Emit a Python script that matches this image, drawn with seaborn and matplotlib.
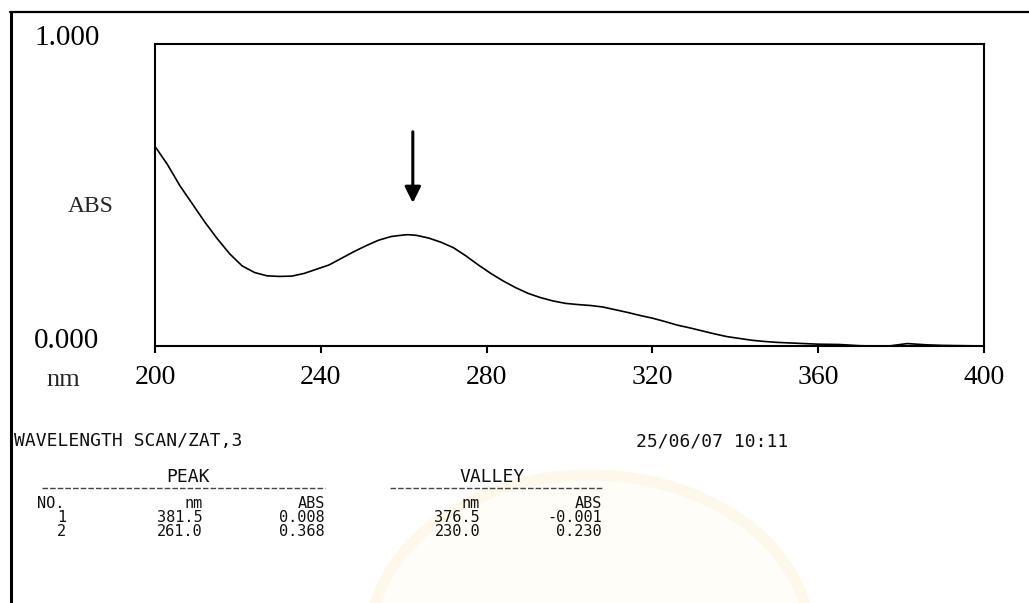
import numpy as np
import pandas as pd
import matplotlib
matplotlib.use("Agg")
import matplotlib.pyplot as plt
import seaborn as sns
from matplotlib.lines import Line2D
from matplotlib.patches import Ellipse
from matplotlib.transforms import ScaledTranslation

# ---------------- data ----------------
wavelength = [200, 203, 206, 209, 212, 215, 218, 221, 224, 227, 230, 233, 236, 239,
              242, 245, 248, 251, 254, 257, 260, 261, 263, 266, 269, 272, 275, 278,
              281, 284, 287, 290, 293, 296, 299, 302, 305, 308, 311, 314, 317, 320,
              323, 326, 329, 332, 335, 338, 341, 344, 347, 350, 355, 360, 365, 370,
              376.5, 381.5, 386, 390, 395, 400]
absorbance = [0.660, 0.600, 0.530, 0.470, 0.410, 0.355, 0.305, 0.265, 0.243, 0.232,
              0.230, 0.231, 0.240, 0.254, 0.268, 0.290, 0.312, 0.332, 0.350, 0.362,
              0.367, 0.368, 0.366, 0.357, 0.343, 0.325, 0.298, 0.268, 0.240, 0.215,
              0.193, 0.174, 0.160, 0.149, 0.141, 0.137, 0.134, 0.129, 0.120, 0.111,
              0.101, 0.092, 0.081, 0.069, 0.060, 0.050, 0.040, 0.031, 0.025, 0.019,
              0.015, 0.012, 0.009, 0.006, 0.005, 0.001, -0.001, 0.008, 0.004, 0.002,
              0.001, 0.000]
xtick_values = [200, 240, 280, 320, 360, 400]
ytick_values = [0.0, 1.0]
ytick_labels = ["0.000", "1.000"]

title_text = "WAVELENGTH SCAN/ZAT,3"
date_text = "25/06/07 10:11"
peak_no = ["1", "2"]
peak_nm = [381.5, 261.0]
peak_abs = [0.008, 0.368]
valley_nm = [376.5, 230.0]
valley_abs = [-0.001, 0.230]

df = pd.DataFrame({"nm": wavelength, "ABS": absorbance})

# ---------------- figure ----------------
sns.set_style("white")
plt.rcParams["font.family"] = ["Liberation Serif", "DejaVu Serif"]

W, H = 1029, 603
fig = plt.figure(figsize=(W / 100, H / 100), dpi=100)
fig.patch.set_facecolor("white")


def fx(x):
    return x / W


def fy(y):
    return 1 - y / H


# barely visible watermark in the lower middle of the scan
wm = Ellipse((fx(590), fy(640)), 440 / W, 330 / H, transform=fig.transFigure,
             facecolor="#fffdf8", edgecolor="#fef8ea", lw=8, zorder=0)
fig.patches.append(wm)

# outer frame of the print-out (left and top only)
fig.add_artist(Line2D([fx(11), fx(11)], [fy(12), fy(603)], color="black", lw=2.2))
fig.add_artist(Line2D([fx(10), fx(1029)], [fy(12), fy(12)], color="black", lw=1.6))

ax = fig.add_axes([fx(155), fy(346), (984 - 155) / W, (346 - 43.5) / H])
sns.lineplot(data=df, x="nm", y="ABS", ax=ax, color="black", lw=1.2, sort=True)

ax.set_xlim(200, 400)
ax.set_ylim(0, 1)
for s in ax.spines.values():
    s.set_visible(True)
    s.set_color("black")
    s.set_linewidth(1.5)

ax.set_xticks(xtick_values)
ax.set_xticklabels([str(v) for v in xtick_values], fontsize=20)
ax.tick_params(axis="x", bottom=True, direction="out", length=5, width=1.5,
               pad=9, colors="black")

ax.set_yticks(ytick_values)
ax.set_yticklabels(ytick_labels, fontsize=21)
ax.tick_params(axis="y", left=True, length=0, pad=40, colors="black")
for lab in ax.get_yticklabels():
    lab.set_transform(lab.get_transform() + ScaledTranslation(0, 6 / 72, fig.dpi_scale_trans))

ax.set_ylabel("ABS", rotation=0, fontsize=17, ha="center", va="center")
ax.yaxis.set_label_coords(-0.078, 0.46)
ax.set_xlabel("nm", fontsize=19, ha="center", va="center")
ax.xaxis.set_label_coords(-0.111, -0.112)
ax.grid(False)

# arrow pointing at the main peak
pk_x, pk_y = peak_nm[1], peak_abs[1]
ax.annotate("", xy=(pk_x + 1.2, pk_y + 0.105), xytext=(pk_x + 1.2, pk_y + 0.34),
            arrowprops=dict(arrowstyle="-|>", color="black", lw=2.2,
                            mutation_scale=24, shrinkA=0, shrinkB=0))

# ---------------- print-out table ----------------
big = dict(family="DejaVu Sans Mono", fontsize=13, color="#111111", va="center")
mono = dict(family="DejaVu Sans Mono", fontsize=11, color="#111111", va="center")

fig.text(fx(14), fy(441), title_text, ha="left", **big)
fig.text(fx(636), fy(441), date_text, ha="left", **big)

fig.text(fx(188), fy(477), "PEAK", ha="center", **big)
fig.text(fx(492), fy(477), "VALLEY", ha="center", **big)
fig.add_artist(Line2D([fx(42), fx(325)], [fy(488), fy(488)], color="#444444",
                      lw=1.0, ls=(0, (4, 1.5))))
fig.add_artist(Line2D([fx(390), fx(602)], [fy(488), fy(488)], color="#444444",
                      lw=1.0, ls=(0, (4, 1.5))))

row_y = [503, 517, 531]
fig.text(fx(37), fy(row_y[0]), "NO.", ha="left", **mono)
fig.text(fx(203), fy(row_y[0]), "nm", ha="right", **mono)
fig.text(fx(325), fy(row_y[0]), "ABS", ha="right", **mono)
fig.text(fx(480), fy(row_y[0]), "nm", ha="right", **mono)
fig.text(fx(602), fy(row_y[0]), "ABS", ha="right", **mono)

for i in range(len(peak_no)):
    y = fy(row_y[i + 1])
    fig.text(fx(66), y, peak_no[i], ha="right", **mono)
    fig.text(fx(203), y, f"{peak_nm[i]:.1f}", ha="right", **mono)
    fig.text(fx(325), y, f"{peak_abs[i]:.3f}", ha="right", **mono)
    fig.text(fx(480), y, f"{valley_nm[i]:.1f}", ha="right", **mono)
    fig.text(fx(602), y, f"{valley_abs[i]:.3f}", ha="right", **mono)

fig.savefig("out.png", dpi=100)
